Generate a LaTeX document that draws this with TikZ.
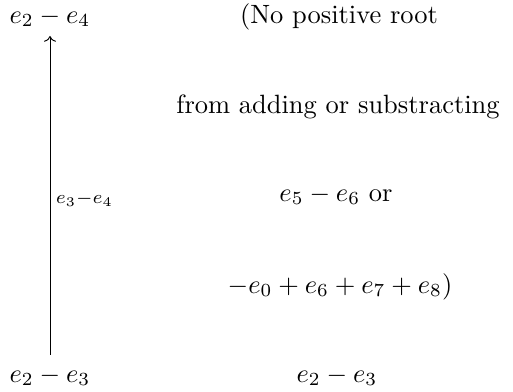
\documentclass[tikz,border=0pt]{standalone}
\usetikzlibrary{cd}
\begin{document}
\begin{tikzpicture}[x=0.378pt,y=-0.378pt,
  txt/.style={anchor=base,inner sep=0pt,outer sep=0pt},
  arr/.style={-{cm to},line width=0.35pt,shorten >=3.4pt,shorten <=4.4pt}]
\useasboundingbox (0,0) rectangle (513,391);
\node[txt] (t) at (50,23) {$e_2-e_4$};
\node[txt] (b) at (50,382) {$e_2-e_3$};
\node[txt] (r0) at (339,23) {(No positive root};
\node[txt] (r1) at (338,113) {from adding or substracting};
\node[txt] (r2) at (336,201) {$e_5-e_6$ or};
\node[txt] (r3) at (340,293) {$-e_0+e_6+e_7+e_8)$};
\node[txt] (r4) at (337,382) {$e_2-e_3$};
\draw[arr] (b) -- node[right,inner sep=2pt,yshift=-1pt] (lab) {$\scriptstyle e_3-e_4$} (t);
\end{tikzpicture}
\end{document}
